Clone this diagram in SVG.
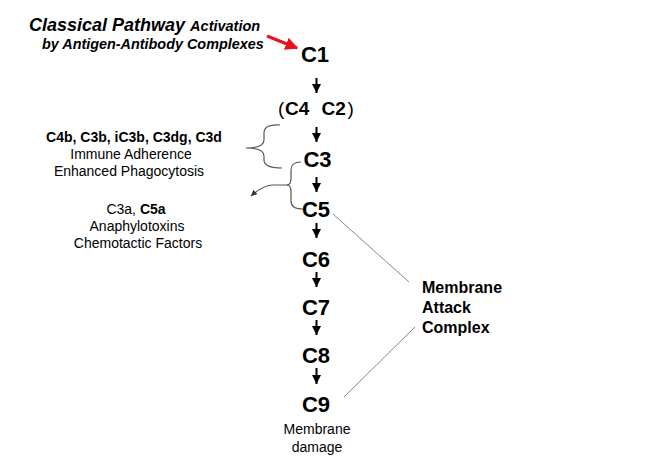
<svg xmlns="http://www.w3.org/2000/svg" width="671" height="465" viewBox="0 0 671 465">
<defs>
<style>
text{font-family:"Liberation Sans",Arial,sans-serif;fill:#000}
.c{font-size:22px;font-weight:bold;text-anchor:middle}
.t{font-weight:bold;font-style:italic}
.l{font-size:14px;text-anchor:middle}
.b{font-weight:bold}
.m{font-size:16px;font-weight:bold}
.arr{stroke:#000;stroke-width:2;fill:none;marker-end:url(#ah)}
.br{stroke:#555;stroke-width:1.2;fill:none}
.gl{stroke:#888;stroke-width:1;fill:none}
</style>
<marker id="ah" viewBox="0 0 10 10" refX="10" refY="5" markerWidth="4.5" markerHeight="4.5" orient="auto" markerUnits="strokeWidth"><path d="M0,0 L10,5 L0,10 z" fill="#000"/></marker>
<marker id="sh" viewBox="0 0 10 10" refX="10" refY="5" markerWidth="5" markerHeight="5" orient="auto" markerUnits="strokeWidth"><path d="M0,0 L10,5 L0,10 z" fill="#333"/></marker>
<marker id="rh" viewBox="0 0 10 10" refX="9" refY="5" markerWidth="4" markerHeight="4" orient="auto" markerUnits="strokeWidth"><path d="M0,0 L10,5 L0,10 z" fill="#e8141c"/></marker>
</defs>
<g id="title">
<text x="29" y="31" class="t" font-size="18">Classical Pathway <tspan font-size="14.5">Activation</tspan></text>
<text x="42" y="49" class="t" font-size="14.4">by Antigen-Antibody Complexes</text>
</g>
<g id="C1"><text x="315" y="62" class="c">C1</text></g>
<g id="C4C2"><text x="278" y="115" font-size="19"><tspan>(</tspan><tspan class="b" x="285">C4</tspan><tspan class="b" x="321.5">C2</tspan><tspan x="347.5">)</tspan></text></g>
<g id="C3"><text x="317.5" y="167" class="c">C3</text></g>
<g id="C5"><text x="316" y="217" class="c">C5</text></g>
<g id="C6"><text x="316" y="267" class="c">C6</text></g>
<g id="C7"><text x="316" y="315" class="c">C7</text></g>
<g id="C8"><text x="316" y="363" class="c">C8</text></g>
<g id="C9"><text x="316" y="412" class="c">C9</text></g>
<g id="damage">
<text x="317" y="434" class="l" font-size="15.5">Membrane</text>
<text x="317" y="452" class="l" font-size="15.5">damage</text>
</g>
<g id="opsonins">
<text x="134" y="142" class="l b" font-size="14.5">C4b, C3b, iC3b, C3dg, C3d</text>
<text x="131" y="159" class="l">Immune Adherence</text>
<text x="129" y="176" class="l">Enhanced Phagocytosis</text>
</g>
<g id="anaphylatoxins">
<text x="136" y="214" class="l">C3a, <tspan class="b">C5a</tspan></text>
<text x="137" y="231" class="l">Anaphylotoxins</text>
<text x="138" y="248" class="l">Chemotactic Factors</text>
</g>
<g id="MAC">
<text x="422" y="293" class="m">Membrane</text>
<text x="422" y="313" class="m">Attack</text>
<text x="422" y="333" class="m">Complex</text>
</g>
<g id="connectors">
<line x1="267" y1="36" x2="297" y2="48" stroke="#e8141c" stroke-width="3.2" marker-end="url(#rh)"/>
<line class="arr" x1="316.5" y1="78" x2="316.5" y2="93"/>
<line class="arr" x1="316.5" y1="127" x2="316.5" y2="142"/>
<line class="arr" x1="316.5" y1="177" x2="316.5" y2="192"/>
<line class="arr" x1="316.5" y1="223" x2="316.5" y2="238"/>
<line class="arr" x1="316.5" y1="272" x2="316.5" y2="287"/>
<line class="arr" x1="316.5" y1="320" x2="316.5" y2="335"/>
<line class="arr" x1="316.5" y1="368" x2="316.5" y2="384"/>
<path class="br" d="M280,125 Q264,124 264,133 L264,140 Q264,148 246,148 Q264,148 264,156 L264,160 Q264,168 282,168"/>
<path class="br" d="M301,162 Q291,162 291,170 L291,178 Q291,185 287,185 Q291,185 291,192 L291,201 Q291,209 303,209"/>
<path class="br" d="M288,185 L272,185 Q262,186 251,196" stroke="#333" marker-end="url(#sh)"/>
<line class="gl" x1="333" y1="214" x2="409" y2="282"/>
<line class="gl" x1="415" y1="327" x2="344" y2="397"/>
</g>
</svg>
